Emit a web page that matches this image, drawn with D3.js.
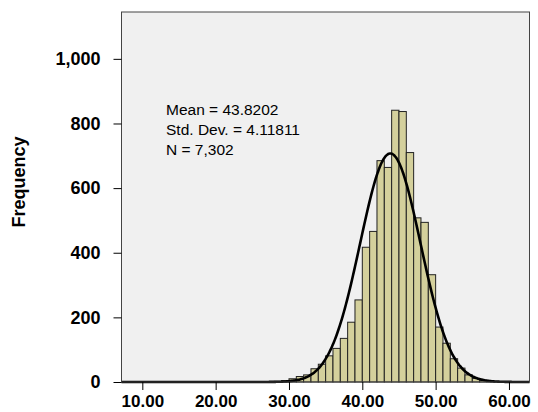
<!DOCTYPE html>
<html>
<head>
<meta charset="utf-8">
<script src="https://cdn.jsdelivr.net/npm/d3@7"></script>
<style>
  html, body { margin: 0; padding: 0; background: #ffffff; }
  svg { display: block; font-family: "Liberation Sans", Arial, sans-serif; }
</style>
</head>
<body>
<svg id="chart" width="538" height="412"></svg>
<script>
// Histogram bins: lower edge of each 1-unit bin and its frequency
const binLower = [26, 27, 28, 29, 30, 31, 32, 33, 34, 35, 36, 37, 38, 39,
                  40, 41, 42, 43, 44, 45, 46, 47, 48, 49,
                  50, 51, 52, 53, 54, 55, 56, 57, 58];
const binCount = [1, 1, 2, 4, 10, 17, 22, 41, 55, 81, 104, 135, 185, 254,
                  417, 466, 685, 664, 841, 837, 710, 508, 494, 332,
                  170, 120, 72, 43, 22, 11, 5, 2, 1];
const binWidth = 1;

// Summary statistics shown in the plot
const statMean = 43.8202;
const statSD = 4.11811;
const statN = 7302;
const statLines = ["Mean = 43.8202", "Std. Dev. = 4.11811", "N = 7,302"];

// Axis ticks
const xTicks = [10, 20, 30, 40, 50, 60];
const yTicks = [0, 200, 400, 600, 800, 1000];

const svg = d3.select("#chart");
const plot = { left: 121.5, right: 529.5, top: 12, bottom: 382 };

const x = d3.scaleLinear().domain([7.16, 62.8]).range([plot.left, plot.right]);
const y = d3.scaleLinear().domain([0, 1145]).range([plot.bottom, plot.top]);

// Plot background
svg.append("rect")
  .attr("x", plot.left).attr("y", plot.top)
  .attr("width", plot.right - plot.left).attr("height", plot.bottom - plot.top)
  .attr("fill", "#f0f0f0");

// Bars
const bins = binLower.map((lo, i) => ({ lo, hi: lo + binWidth, n: binCount[i] }));
svg.append("g").selectAll("rect")
  .data(bins).join("rect")
  .attr("x", d => x(d.lo))
  .attr("y", d => y(d.n))
  .attr("width", d => x(d.hi) - x(d.lo))
  .attr("height", d => y(0) - y(d.n))
  .attr("fill", "#d4d09c")
  .attr("stroke", "#222")
  .attr("stroke-width", 1);

// Fitted normal curve scaled to counts
const sqrt2pi = Math.sqrt(2 * Math.PI);
const normal = v => statN * binWidth / (statSD * sqrt2pi) *
  Math.exp(-0.5 * Math.pow((v - statMean) / statSD, 2));
const [x0, x1] = x.domain();
const curvePts = d3.range(0, 401).map(i => {
  const v = x0 + (x1 - x0) * i / 400;
  return [v, normal(v)];
});
svg.append("path")
  .datum(curvePts)
  .attr("fill", "none")
  .attr("stroke", "#000")
  .attr("stroke-width", 2.6)
  .attr("d", d3.line().x(d => x(d[0])).y(d => y(d[1])).curve(d3.curveBasis));

// Plot frame
svg.append("rect")
  .attr("x", plot.left).attr("y", plot.top)
  .attr("width", plot.right - plot.left).attr("height", plot.bottom - plot.top)
  .attr("fill", "none")
  .attr("stroke", "#444")
  .attr("stroke-width", 1);

// Y axis
const yAxis = d3.axisLeft(y).tickValues(yTicks)
  .tickFormat(d3.format(",")).tickSize(8).tickPadding(13);
const gy = svg.append("g").attr("transform", `translate(${plot.left},0)`).call(yAxis);
gy.select(".domain").remove();
gy.selectAll("line").attr("stroke", "#000");
gy.selectAll("text")
  .attr("font-size", 18).attr("font-weight", "bold")
  .attr("font-family", "Liberation Sans, Arial, sans-serif").attr("fill", "#000");

// X axis
const xAxis = d3.axisBottom(x).tickValues(xTicks)
  .tickFormat(d3.format(".2f")).tickSize(8).tickPadding(5);
const gx = svg.append("g").attr("transform", `translate(0,${plot.bottom})`).call(xAxis);
gx.select(".domain").remove();
gx.selectAll("line").attr("stroke", "#000");
gx.selectAll("text")
  .attr("font-size", 17).attr("font-weight", "bold")
  .attr("font-family", "Liberation Sans, Arial, sans-serif").attr("fill", "#000");

// Y axis title
svg.append("text")
  .attr("transform", "translate(25,182) rotate(-90)")
  .attr("text-anchor", "middle")
  .attr("font-size", 18).attr("font-weight", "bold")
  .attr("fill", "#000")
  .text("Frequency");

// Statistics legend
svg.append("g").selectAll("text")
  .data(statLines).join("text")
  .attr("x", 166)
  .attr("y", (d, i) => 115 + i * 20)
  .attr("font-size", 15.5)
  .attr("fill", "#000")
  .text(d => d);
</script>
</body>
</html>
